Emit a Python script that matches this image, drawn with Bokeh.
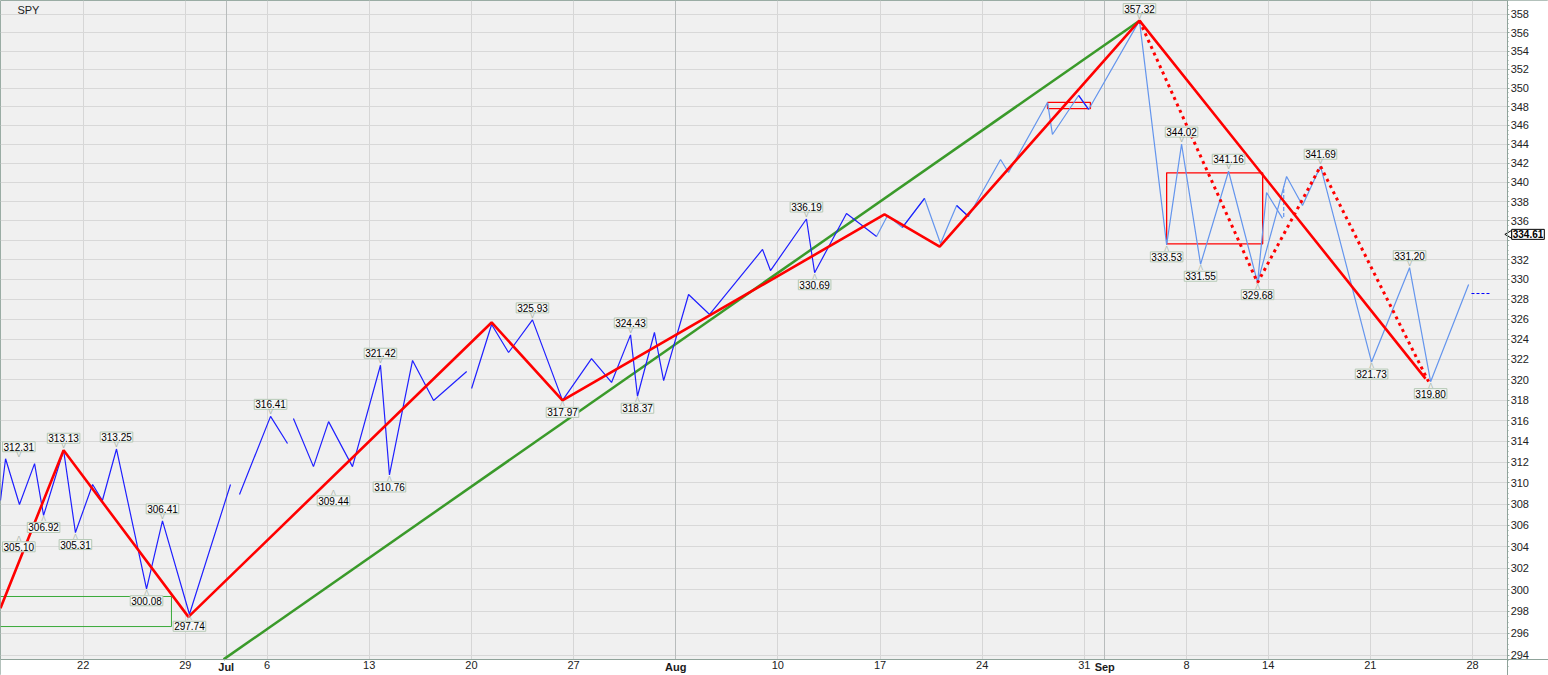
from bokeh.plotting import figure
from bokeh.models import (Range1d, FixedTicker, PrintfTickFormatter, Grid, LogAxis, LinearAxis,
                          BoxAnnotation)
from bokeh.core.properties import value
from bokeh.embed import file_html
from bokeh.resources import INLINE

nan = float("nan")

# x axis: trading-day index (Mon 22 Jun 2020 = 0), weekends/holidays skipped
x_tick_pos = [0, 5, 7, 9, 14, 19, 24, 29, 34, 39, 44, 49, 50, 54, 58, 63, 68]
x_tick_labels = ["22", "29", "Jul", "6", "13", "20", "27", "Aug", "10", "17",
                 "24", "31", "Sep", "8", "14", "21", "28"]
month_pos = [7, 29, 50]
month_labels = ["Jul", "Aug", "Sep"]
y_ticks = list(range(294, 360, 2))

# plotted window (trading-day index, price)
X_START, X_END = -4.0, 69.72
Y_LOW, Y_HIGH = 293.64, 359.43

# SPY swing line (dark blue part, NaN = gap)
dark_x = [-4.05, -3.80, -3.12, -2.38, -1.94, -0.96, -0.38, 0.46, 0.94, 1.63, 3.10, 3.88, 5.20, 7.21, nan,
          7.65, 9.17, 10.00, nan,
          10.29, 11.27, 12.01, 13.18, 14.55, 14.99, 16.12, 17.15, 18.77, nan,
          19.01, 19.99, 20.82, 21.99, 23.46, 24.88, 25.86, 26.79, 27.13, 27.96, 28.41, 29.63, 30.66,
          33.25, 33.64, 35.40, 35.80, 37.36, 38.83, nan, 40.10, 41.18, nan, 42.75, 43.33, nan, 48.72, 49.21]
dark_y = [308.33, 312.31, 307.95, 311.85, 306.92, 313.13, 305.31, 309.85, 308.33, 313.25, 300.08, 306.41, 297.74, 309.85, nan,
          308.90, 316.41, 313.78, nan,
          316.20, 311.56, 315.90, 311.56, 321.42, 310.76, 321.89, 317.95, 320.80, nan,
          319.13, 325.47, 322.68, 325.93, 317.97, 322.08, 319.72, 324.43, 318.37, 324.67, 319.91, 328.48, 326.47,
          333.06, 330.91, 336.19, 330.69, 336.76, 334.39, nan, 335.32, 338.32, nan, 337.59, 336.45, nan, 349.20, 347.70]

# SPY swing line (light blue part)
light_x = [38.83, 39.37, 40.10, 41.18, 41.96, 42.75, 43.33, 44.90, 45.29, 47.20, 47.44, 48.72, 49.21, 51.70,
           53.03, 53.76, 54.69, 56.06, 57.48, 58.90, 59.68, 60.56, 63.06, 64.92, 65.95, 67.81]
light_y = [334.39, 336.56, 335.32, 338.32, 333.67, 337.59, 336.45, 342.40, 341.03, 348.45, 345.04, 349.20, 347.70, 357.32,
           333.53, 344.02, 331.55, 341.16, 329.68, 340.61, 337.59, 341.69, 321.73, 331.20, 319.80, 329.49]
branch_x = [57.48, 57.92, 58.70]
branch_y = [329.68, 338.94, 336.25]
branch_dash_x = [58.76, 58.76]
branch_dash_y = [336.4, 339.6]

# zigzag (solid red) and projection (dotted red)
zig_x = [-4.05, -0.96, 5.15, 19.99, 23.46, 39.22, 41.92, 51.70, 65.70]
zig_y = [298.30, 313.13, 297.50, 325.67, 317.97, 336.66, 333.36, 357.32, 320.10]
dot_x = [51.70, 57.48, 60.56, 65.85]
dot_y = [357.32, 329.68, 341.69, 319.80]

# green trendline and green support box
trend_x = [6.87, 51.70]
trend_y = [293.64, 357.32]
gbox_x = [-4.05, 4.32, 4.32, -4.05]
gbox_y = [299.37, 299.37, 296.62, 296.62]

# red boxes
rbox_left = [47.20, 53.03]
rbox_right = [49.30, 57.73]
rbox_bottom = [347.80, 333.64]
rbox_top = [348.45, 341.00]

# swing labels (label centre x, value)
hi_x = [-3.15, -0.96, 1.63, 3.88, 9.17, 14.55, 21.99, 26.79, 35.40, 51.70, 53.76, 56.06, 60.56, 64.92]
hi_v = [312.31, 313.13, 313.25, 306.41, 316.41, 321.42, 325.93, 324.43, 336.19, 357.32, 344.02, 341.16, 341.69, 331.20]
lo_x = [-3.15, -1.94, -0.38, 3.10, 5.20, 12.25, 14.99, 23.46, 27.13, 35.80, 53.03, 54.69, 57.48, 63.06, 65.95]
lo_v = [305.10, 306.92, 305.31, 300.08, 297.74, 309.44, 310.76, 317.97, 318.37, 330.69, 333.53, 331.55, 329.68, 321.73, 319.80]

last_price = 334.61
pivot_x = [67.95, 68.88]
pivot_y = [328.58, 328.58]

FONT = "Liberation Sans"

# the frame spans the whole canvas; the axes are pinned at the edges of the price window
p = figure(width=1548, height=675, x_range=Range1d(-4.048, 71.72), y_range=Range1d(292.19, 359.54),
           y_axis_type="log", x_axis_location=None, y_axis_location=None,
           output_backend="svg", toolbar_location=None,
           min_border_left=0, min_border_top=0, min_border_right=0, min_border_bottom=0)
p.background_fill_color = "#f0f0f0"
p.border_fill_color = "white"
p.outline_line_color = "#9aaca4"

# grids, then white bands that hide them outside the price window
p.ygrid.ticker = FixedTicker(ticks=y_ticks)
p.ygrid.grid_line_color = "#d8d8d8"
p.xgrid.ticker = FixedTicker(ticks=[t for t in x_tick_pos if t not in month_pos])
p.xgrid.grid_line_color = "#d6d6d6"
p.add_layout(Grid(dimension=0, ticker=FixedTicker(ticks=month_pos), grid_line_color="#b8bcbc"))
p.add_layout(BoxAnnotation(left=X_END, fill_color="white", fill_alpha=1, line_alpha=0, level="underlay"))
p.add_layout(BoxAnnotation(top=Y_LOW, fill_color="white", fill_alpha=1, line_alpha=0, level="underlay"))

# axes
yaxis = LogAxis(fixed_location=X_END, ticker=FixedTicker(ticks=y_ticks, minor_ticks=[v / 2 for v in range(586, 720)]),
                formatter=PrintfTickFormatter(format="%d"), major_label_overrides={334: ""})
yaxis.major_label_text_font = FONT
yaxis.major_label_text_font_size = "11px"
yaxis.major_label_text_color = "#222222"
yaxis.major_tick_in = 0
yaxis.major_tick_out = 2
yaxis.minor_tick_in = 0
yaxis.minor_tick_out = 1
yaxis.major_label_standoff = 1
yaxis.axis_line_color = "#8fa39a"
yaxis.major_tick_line_color = "#8fa39a"
yaxis.minor_tick_line_color = "#8fa39a"
p.add_layout(yaxis, "right")

xaxis = LinearAxis(fixed_location=Y_LOW, ticker=FixedTicker(ticks=x_tick_pos),
                   major_label_overrides={t: ("" if t in month_pos else s) for t, s in zip(x_tick_pos, x_tick_labels)})
xaxis.major_label_text_font = FONT
xaxis.major_label_text_font_size = "11px"
xaxis.major_label_text_color = "#222222"
xaxis.major_tick_in = 0
xaxis.major_tick_out = 0
xaxis.minor_tick_out = 0
xaxis.major_label_standoff = 2
xaxis.axis_line_color = "#8fa39a"
p.add_layout(xaxis, "below")

# month names (bold) on the date axis
p.text(x=month_pos, y=[293.45] * len(month_pos), text=month_labels, text_align="center", text_baseline="top",
       text_font=value(FONT), text_font_size="11px", text_font_style="bold", text_color="#1a1a1a")

# lines
p.line(trend_x, trend_y, line_color="#3a9a2a", line_width=2.5)
p.line(gbox_x, gbox_y, line_color="#3aaa3a", line_width=1)
p.quad(left=rbox_left, right=rbox_right, bottom=rbox_bottom, top=rbox_top,
       fill_color=None, line_color="#ff0000", line_width=1.3)
p.line(light_x, light_y, line_color="#6495ed", line_width=1.2)
p.line(branch_x, branch_y, line_color="#6495ed", line_width=1.2)
p.line(branch_dash_x, branch_dash_y, line_color="#6495ed", line_width=1.2, line_dash="4 2")
p.line(dark_x, dark_y, line_color="#1f1fff", line_width=1.2)
p.line(zig_x, zig_y, line_color="#ff0000", line_width=2.6)
p.line(dot_x, dot_y, line_color="#ff0000", line_width=3, line_dash="3 4")
p.line(pivot_x, pivot_y, line_color="#0000ff", line_width=1, line_dash="3 2")

lab_kw = dict(text_align="center", text_font=value(FONT), text_font_size="10px", text_color="black",
              background_fill_color="#f6f6f6", border_line_color="#b4c8b4", padding=1)
p.text(x=hi_x, y=hi_v, text=["%.2f" % v for v in hi_v], text_baseline="bottom", y_offset=-7, **lab_kw)
p.text(x=lo_x, y=lo_v, text=["%.2f" % v for v in lo_v], text_baseline="top", y_offset=7, **lab_kw)

# small pointers between labels and swing points
ptr_kw = dict(text_align="center", text_font=value("DejaVu Sans"), text_font_size="7px", text_color="#a8b4a8")
p.text(x=hi_x, y=hi_v, text=["V"] * len(hi_x), text_baseline="bottom", y_offset=0, **ptr_kw)
p.text(x=lo_x, y=lo_v, text=["\u039b"] * len(lo_x), text_baseline="top", y_offset=0, **ptr_kw)

# ticker name and last-price flag
p.text(x=[-3.22], y=[359.1], text=["SPY"], text_font=value(FONT), text_font_size="11px",
       text_baseline="top", text_color="#222222")
p.scatter(x=[69.81], y=[last_price], marker="triangle", angle=1.5708, size=8,
          fill_color="white", line_color="black", line_width=1)
p.text(x=[69.92], y=[last_price], text=["%.2f" % last_price], text_font=value(FONT), text_font_size="10px",
       text_font_style="bold", text_baseline="middle", text_align="left", text_color="black",
       background_fill_color="white", border_line_color="black", padding=1)

open("out.html", "w").write(file_html(p, INLINE))
